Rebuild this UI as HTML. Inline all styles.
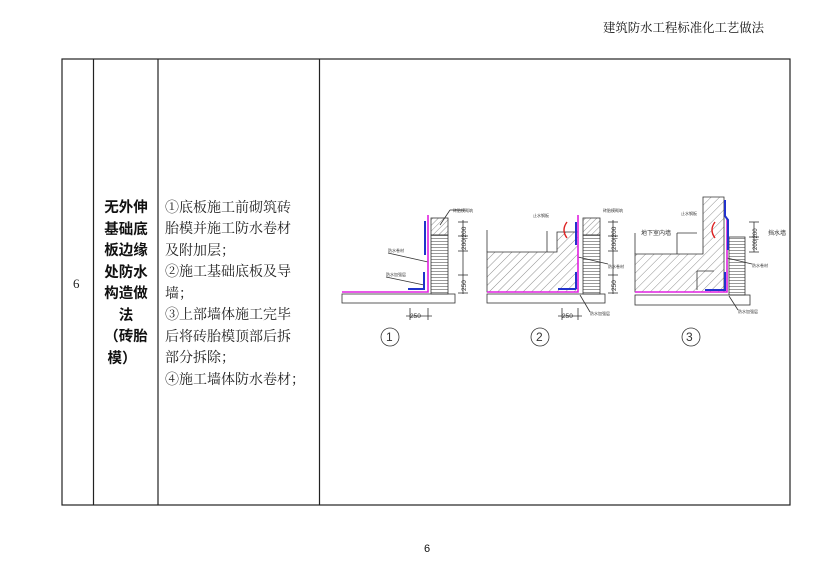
<!DOCTYPE html>
<html><head><meta charset="utf-8"><style>
html,body{margin:0;padding:0;background:#fff;}
body{width:822px;height:578px;position:relative;overflow:hidden;font-family:"Liberation Serif","Noto Serif CJK SC",serif;color:#111;}
.abs{position:absolute;}
</style></head><body>
<div class="abs" style="left:603px;top:18px;font-size:12.4px;letter-spacing:0;white-space:nowrap;">建筑防水工程标准化工艺做法</div>
<div class="abs" style="left:424px;top:543px;font-size:11px;font-family:'Liberation Sans',sans-serif;">6</div>
<svg class="abs" style="left:0;top:0" width="822" height="578" xmlns="http://www.w3.org/2000/svg">
<g stroke="#222" stroke-width="1.2" fill="none">
<rect x="62" y="59" width="728" height="446"/>
<line x1="93.5" y1="59" x2="93.5" y2="505"/>
<line x1="158" y1="59" x2="158" y2="505"/>
<line x1="319.5" y1="59" x2="319.5" y2="505"/>
</g>
<text x="73" y="288" font-size="13" font-family="Liberation Serif" fill="#222">6</text>
<g font-family="Noto Sans CJK SC,sans-serif" font-weight="bold" font-size="14.5" fill="#111" text-anchor="middle">
<text x="126" y="212">无外伸</text>
<text x="126" y="234">基础底</text>
<text x="126" y="255">板边缘</text>
<text x="126" y="277">处防水</text>
<text x="126" y="298">构造做</text>
<text x="126" y="320">法</text>
<text x="126" y="341">（砖胎</text>
<text x="122" y="363">模）</text>
</g>
<g font-family="Noto Serif CJK SC,serif" font-size="14" fill="#222">
<text x="165" y="212">①底板施工前砌筑砖</text>
<text x="165" y="233">胎模并施工防水卷材</text>
<text x="165" y="255">及附加层；</text>
<text x="165" y="276">②施工基础底板及导</text>
<text x="165" y="298">墙；</text>
<text x="165" y="319">③上部墙体施工完毕</text>
<text x="165" y="341">后将砖胎模顶部后拆</text>
<text x="165" y="362">部分拆除；</text>
<text x="165" y="384">④施工墙体防水卷材；</text>
</g>
<defs>
<pattern id="h" width="6" height="6" patternUnits="userSpaceOnUse" patternTransform="rotate(45)"><line x1="0" y1="0" x2="0" y2="6" stroke="#444" stroke-width="0.6"/></pattern>
<pattern id="hb" width="4" height="4" patternUnits="userSpaceOnUse" patternTransform="rotate(45)"><line x1="0" y1="0" x2="0" y2="4" stroke="#444" stroke-width="0.6"/></pattern>
<pattern id="br" width="4" height="3" patternUnits="userSpaceOnUse"><line x1="0" y1="1.5" x2="4" y2="1.5" stroke="#555" stroke-width="0.6"/></pattern>
</defs>
<!-- Diagram 1 -->
<g stroke="#333" stroke-width="0.8" fill="none">
<rect x="342" y="294" width="113" height="9"/>
<rect x="431" y="218" width="17" height="17" fill="url(#hb)"/>
<rect x="431" y="235" width="17" height="59" fill="url(#br)"/>
<line x1="463" y1="220" x2="463" y2="294"/>
<line x1="458" y1="222" x2="468" y2="222"/><line x1="458" y1="236" x2="468" y2="236"/><line x1="458" y1="251" x2="468" y2="251"/><line x1="458" y1="275" x2="468" y2="275"/><line x1="458" y1="293" x2="468" y2="293"/>
<line x1="410" y1="308" x2="410" y2="320"/><line x1="428" y1="308" x2="428" y2="320"/><line x1="406" y1="316" x2="432" y2="316"/>
<circle cx="390" cy="337" r="9"/>
<line x1="428" y1="262" x2="388" y2="253"/><line x1="424" y1="285" x2="386" y2="277"/><line x1="440" y1="225" x2="450" y2="210" /><line x1="450" y1="210" x2="465" y2="210"/>
</g>
<g stroke="#e020e0" stroke-width="1.6" fill="none"><polyline points="342,292 428,292 428,215"/></g>
<g stroke="#2233cc" stroke-width="2" fill="none"><line x1="425" y1="221" x2="425" y2="255"/><polyline points="408,289 424,289 424,272"/></g>
<g font-size="6.5" fill="#333" font-family="Liberation Sans"><text x="410" y="318">250</text><text transform="translate(466,250) rotate(-90)">200|200</text><text transform="translate(466,291) rotate(-90)">250</text><text x="386" y="341" font-size="12">1</text></g>
<!-- Diagram 2 -->
<g stroke="#333" stroke-width="0.8" fill="none">
<rect x="487" y="294" width="118" height="9"/>
<path d="M487,252 L557,252 L557,232 L578,232 L578,292 L487,292 Z" fill="url(#h)"/>
<line x1="487" y1="252" x2="487" y2="230"/>
<rect x="583" y="218" width="17" height="17" fill="url(#hb)"/>
<rect x="583" y="235" width="17" height="59" fill="url(#br)"/>
<line x1="613" y1="220" x2="613" y2="294"/>
<line x1="608" y1="222" x2="618" y2="222"/><line x1="608" y1="236" x2="618" y2="236"/><line x1="608" y1="251" x2="618" y2="251"/><line x1="608" y1="275" x2="618" y2="275"/><line x1="608" y1="293" x2="618" y2="293"/>
<line x1="562" y1="308" x2="562" y2="320"/><line x1="578" y1="308" x2="578" y2="320"/><line x1="558" y1="316" x2="582" y2="316"/>
<circle cx="540" cy="337" r="9"/>
<line x1="578" y1="257" x2="608" y2="264"/><line x1="580" y1="295" x2="590" y2="312"/><line x1="547" y1="231" x2="547" y2="252"/>
</g>
<path d="M567,222 Q561,230 567,238" stroke="#dd2222" stroke-width="1.4" fill="none"/>
<g stroke="#e020e0" stroke-width="1.6" fill="none"><polyline points="487,292 578,292 578,215"/></g>
<g stroke="#2233cc" stroke-width="2" fill="none"><line x1="576" y1="222" x2="576" y2="245"/><line x1="576" y1="272" x2="576" y2="289"/><line x1="558" y1="289" x2="576" y2="289"/></g>
<g font-size="6.5" fill="#333" font-family="Liberation Sans"><text x="562" y="318">250</text><text transform="translate(616,250) rotate(-90)">200|200</text><text transform="translate(616,291) rotate(-90)">250</text><text x="536" y="341" font-size="12">2</text></g>
<!-- Diagram 3 -->
<g stroke="#333" stroke-width="0.8" fill="none">
<rect x="635" y="295" width="115" height="10"/>
<path d="M635,254 L703,254 L703,197 L724,197 L724,292 L635,292 Z" fill="url(#h)"/>
<line x1="635" y1="254" x2="635" y2="233"/>
<rect x="729" y="237" width="16" height="58" fill="url(#br)"/>
<line x1="754" y1="222" x2="754" y2="252"/>
<line x1="749" y1="222" x2="759" y2="222"/><line x1="749" y1="237" x2="759" y2="237"/><line x1="749" y1="252" x2="759" y2="252"/>
<line x1="697" y1="271" x2="697" y2="290"/><line x1="697" y1="271" x2="714" y2="271"/>
<circle cx="691" cy="337" r="9"/>
<line x1="727" y1="258" x2="752" y2="264"/><line x1="729" y1="296" x2="738" y2="310"/><line x1="677" y1="233" x2="677" y2="254"/><line x1="677" y1="233" x2="697" y2="233"/>
</g>
<path d="M715,222 Q709,230 715,238" stroke="#dd2222" stroke-width="1.4" fill="none"/>
<g stroke="#e020e0" stroke-width="1.6" fill="none"><polyline points="635,292 727,292 727,218"/></g>
<g stroke="#2233cc" stroke-width="2" fill="none"><polyline points="725,200 725,216 728,220 728,250"/><polyline points="705,290 725,290 725,272"/></g>
<g font-size="6" fill="#333" font-family="Noto Sans CJK SC"><text x="641" y="235">地下室内墙</text><text x="768" y="235">挡水墙</text><text transform="translate(757,250) rotate(-90)" font-family="Liberation Sans">200|200</text><text x="686" y="341" font-size="12" font-family="Liberation Sans">3</text></g>
<g font-size="4" fill="#333" font-family="Noto Sans CJK SC">
<text x="453" y="212">砖胎模砌筑</text><text x="388" y="252">防水卷材</text><text x="386" y="276">防水加强层</text>
<text x="533" y="217">止水钢板</text><text x="603" y="212">砖胎模砌筑</text><text x="608" y="268">防水卷材</text><text x="590" y="315">防水加强层</text>
<text x="681" y="215">止水钢板</text><text x="752" y="267">防水卷材</text><text x="738" y="313">防水加强层</text>
</g>
</svg>
</body></html>
